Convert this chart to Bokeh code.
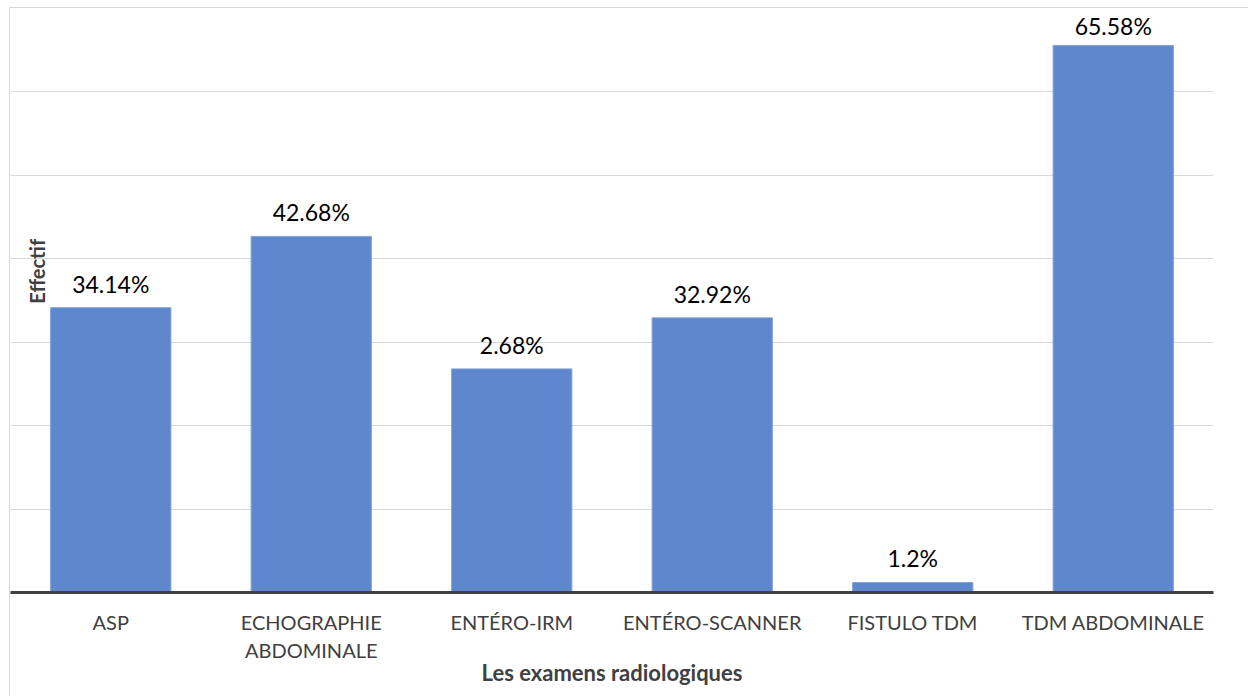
import math
from bokeh.plotting import figure
from bokeh.models import ColumnDataSource, Label, Range1d, FactorRange
from bokeh.core.properties import value
from bokeh.embed import file_html
from bokeh.resources import INLINE

categories = ["ASP", "ECHOGRAPHIE\nABDOMINALE", "ENTÉRO-IRM", "ENTÉRO-SCANNER", "FISTULO TDM", "TDM ABDOMINALE"]
values = [34.14, 42.68, 26.8, 32.92, 1.2, 65.58]
bar_labels = ["34.14%", "42.68%", "2.68%", "32.92%", "1.2%", "65.58%"]
y_ticks = [0, 10, 20, 30, 40, 50, 60, 70]

FONT = "Lato"
Y_MAX = 70
FRAME_H = 689 - 105  # plot frame height in px
px_per_unit = FRAME_H / Y_MAX
# keep each data label inside the plot area (as the source does for the tallest bar)
offsets = [-min(24, (Y_MAX - v) * px_per_unit - 17) for v in values]

src = ColumnDataSource(dict(cat=categories, val=values, lab=bar_labels, off=offsets))

p = figure(x_range=FactorRange(*categories, range_padding=0), y_range=Range1d(0, Y_MAX),
           width=1239, height=689, output_backend="svg", toolbar_location=None,
           min_border_left=0, min_border_right=36, min_border_top=0, min_border_bottom=105)
p.margin = (7, 0, 0, 9)
p.styles = {"border-left": "1px solid #D9D9D9", "border-top": "1px solid #D9D9D9"}
p.outline_line_color = None
p.background_fill_color = "white"
p.border_fill_color = "white"

p.vbar(x="cat", top="val", width=0.6, source=src, fill_color="#5F87CD",
       line_color="#85A3DA", line_width=1)

p.text(x="cat", y="val", text="lab", source=src, text_align="center", text_baseline="middle",
       y_offset="off", text_font=value(FONT), text_font_size="23px", text_color="#000000")

p.yaxis.visible = False
p.ygrid.ticker = y_ticks
p.ygrid.grid_line_color = "#D9D9D9"
p.ygrid.grid_line_width = 1
p.xgrid.grid_line_color = None

xa = p.xaxis[0]
xa.axis_line_color = "#404040"
xa.axis_line_width = 3
xa.major_tick_line_color = None
xa.minor_tick_line_color = None
xa.major_label_standoff = 11
xa.major_label_text_font = FONT
xa.major_label_text_font_size = "20px"
xa.major_label_text_color = "#404040"
xa.major_label_text_line_height = 1.2
xa.axis_label = "Les examens radiologiques"
xa.axis_label_text_font = FONT
xa.axis_label_text_font_style = "bold"
xa.axis_label_text_font_size = "22px"
xa.axis_label_text_color = "#404040"
xa.axis_label_standoff = -6

p.add_layout(Label(x=0.13, y=38.5, text="Effectif", angle=math.pi / 2, text_align="center",
                   text_baseline="middle", text_font=FONT, text_font_style="bold",
                   text_font_size="20px", text_color="#404040"))

open("out.html", "w").write(file_html(p, INLINE))
